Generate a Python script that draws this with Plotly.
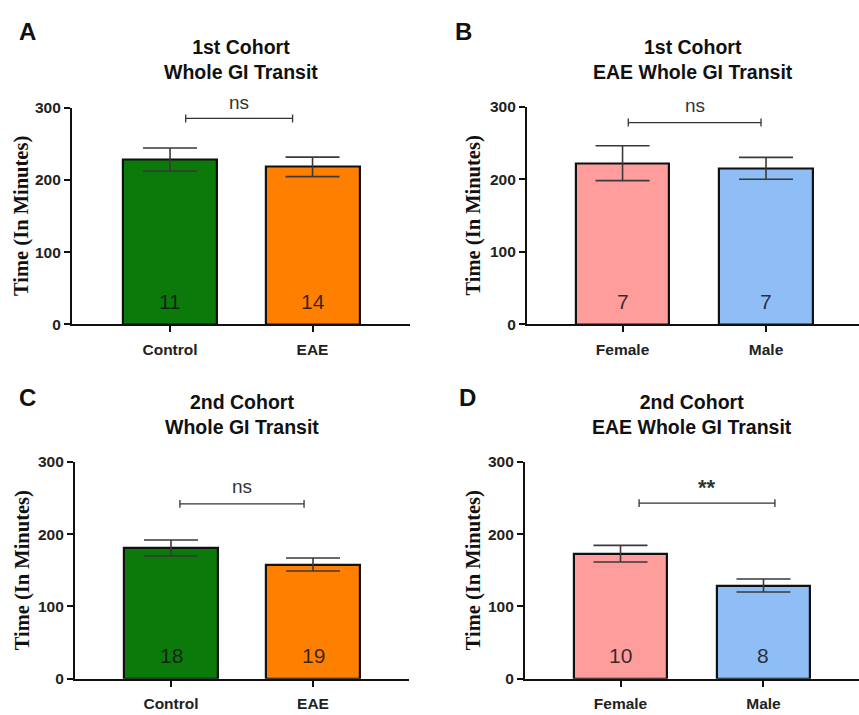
import plotly.graph_objects as go

W, H = 859, 715

# ---- data ----
panel_letters = ["A", "B", "C", "D"]
panel_titles = [
    "1st Cohort<br>Whole GI Transit",
    "1st Cohort<br>EAE Whole GI Transit",
    "2nd Cohort<br>Whole GI Transit",
    "2nd Cohort<br>EAE Whole GI Transit",
]
cats_A = ["Control", "EAE"]
means_A = [228, 218]
sem_A = [16, 13.5]
n_A = [11, 14]

cats_B = ["Female", "Male"]
means_B = [222, 215]
sem_B = [24, 15]
n_B = [7, 7]

cats_C = ["Control", "EAE"]
means_C = [181, 158]
sem_C = [11, 9]
n_C = [18, 19]

cats_D = ["Female", "Male"]
means_D = [173, 129]
sem_D = [11.5, 9]
n_D = [10, 8]

sig_labels = ["ns", "ns", "ns", "**"]
bracket_levels = [285, 278, 242, 243]
y_ticks = [0, 100, 200, 300]
y_max = 300

# ---- styling / layout ----
colors_cohort = ["#0B7A0B", "#FF7F00"]
colors_sex = ["#FF9C9C", "#8FBDF5"]

panels = [
    dict(cats=cats_A, means=means_A, sem=sem_A, n=n_A, colors=colors_cohort,
         xpx=(72, 410), ypx=(101, 323), xr=(-0.688, 1.684), bw=0.66,
         br=(0.11, 0.86), sig_dy=16, letter=(28, 23), ytitle_x=22, title_y=52),
    dict(cats=cats_B, means=means_B, sem=sem_B, n=n_B, colors=colors_sex,
         xpx=(527, 859), ypx=(100, 323), xr=(-0.666, 1.648), bw=0.65,
         br=(0.04, 0.965), sig_dy=18, letter=(463, 23), ytitle_x=473, title_y=52),
    dict(cats=cats_C, means=means_C, sem=sem_C, n=n_C, colors=colors_cohort,
         xpx=(75, 409), ypx=(464, 686), xr=(-0.676, 1.676), bw=0.66,
         br=(0.063, 0.937), sig_dy=18, letter=(28, 398), ytitle_x=22, title_y=415),
    dict(cats=cats_D, means=means_D, sem=sem_D, n=n_D, colors=colors_sex,
         xpx=(525, 859), ypx=(464, 686), xr=(-0.668, 1.668), bw=0.65,
         br=(0.13, 1.08), sig_dy=16, letter=(467, 398), ytitle_x=473, title_y=415),
]

fig = go.Figure()
annotations = []
shapes = []
layout = {}
tickfont = dict(family="Liberation Sans, Arial", size=15.5, color="#222222", weight="bold")

for i, p in enumerate(panels):
    k = "" if i == 0 else str(i + 1)
    xa, ya = "x" + k, "y" + k
    fig.add_trace(go.Bar(
        x=p["cats"], y=p["means"], xaxis=xa, yaxis=ya,
        width=p["bw"],
        marker=dict(color=p["colors"], line=dict(color="#111111", width=2.2)),
        error_y=dict(type="data", array=p["sem"], color="#3a3a3a",
                     thickness=1.6, width=27),
        showlegend=False, hoverinfo="skip",
    ))
    x0, x1 = p["xpx"]
    yt, yb = p["ypx"]
    yd0, yd1 = 1 - yb / H, 1 - yt / H
    layout["xaxis" + k] = dict(
        domain=[x0 / W, x1 / W], anchor=ya, range=list(p["xr"]),
        type="category", showline=True, linecolor="#111111", linewidth=2.2,
        ticks="outside", ticklen=6, tickwidth=2, tickcolor="#111111",
        tickfont=tickfont, ticklabelstandoff=4,
        showgrid=False, zeroline=False, fixedrange=True,
    )
    layout["yaxis" + k] = dict(
        domain=[yd0, yd1], anchor=xa, range=[0, y_max],
        tickvals=y_ticks, showline=True, linecolor="#111111", linewidth=2.2,
        ticks="outside", ticklen=6, tickwidth=2, tickcolor="#111111",
        tickfont=tickfont, showgrid=False, zeroline=False, fixedrange=True,
    )
    # panel letter
    lx, ly = p["letter"]
    annotations.append(dict(text="<b>%s</b>" % panel_letters[i], xref="paper", yref="paper",
                            x=lx / W, y=1 - ly / H, showarrow=False,
                            xanchor="center", yanchor="middle",
                            font=dict(family="Liberation Sans, Arial", size=24, color="#111111")))
    # title
    annotations.append(dict(text="<b>%s</b>" % panel_titles[i], xref="paper", yref="paper",
                            x=(x0 + x1) / 2 / W, y=1 - p["title_y"] / H, showarrow=False,
                            xanchor="center", yanchor="middle",
                            font=dict(family="Liberation Sans, Arial", size=19.5, color="#111111"),
                            align="center"))
    # y title
    annotations.append(dict(text="<b>Time (In Minutes)</b>", xref="paper", yref="paper",
                            x=p["ytitle_x"] / W, y=1 - (yt + yb) / 2 / H, textangle=-90,
                            showarrow=False, xanchor="center", yanchor="middle",
                            font=dict(family="Liberation Serif, Times New Roman", size=20.5,
                                      color="#111111")))
    # n labels
    for c, n in zip(p["cats"], p["n"]):
        annotations.append(dict(text=str(n), xref=xa, yref=ya, x=c, y=32, showarrow=False,
                                xanchor="center", yanchor="middle",
                                font=dict(family="Liberation Sans, Arial", size=21,
                                          color="rgba(20,20,20,0.85)")))
    # significance bracket
    bx0, bx1 = p["br"]
    by = bracket_levels[i]
    shapes.append(dict(type="line", xref=xa, yref=ya, x0=bx0, x1=bx1, y0=by, y1=by,
                       line=dict(color="#333333", width=1.3)))
    for bx in (bx0, bx1):
        shapes.append(dict(type="line", xref=xa, yref=ya, x0=bx, x1=bx, y0=by - 5.5, y1=by + 5.5,
                           line=dict(color="#333333", width=1.3)))
    sig = sig_labels[i]
    xmid_frac = ((bx0 + bx1) / 2 - p["xr"][0]) / (p["xr"][1] - p["xr"][0])
    sig_y = yd0 + (by / y_max) * (yd1 - yd0) + p["sig_dy"] / H
    annotations.append(dict(text=("<b>%s</b>" % sig) if sig != "ns" else sig,
                            xref="paper", yref="paper",
                            x=(x0 + xmid_frac * (x1 - x0)) / W, y=sig_y,
                            showarrow=False, xanchor="center", yanchor="middle",
                            font=dict(family="Liberation Sans, Arial",
                                      size=22 if sig != "ns" else 19,
                                      color="#333333")))

fig.update_layout(
    width=W, height=H, margin=dict(l=0, r=0, t=0, b=0),
    paper_bgcolor="white", plot_bgcolor="white",
    annotations=annotations, shapes=shapes, bargap=0, **layout,
)
fig.write_html("out.html")
